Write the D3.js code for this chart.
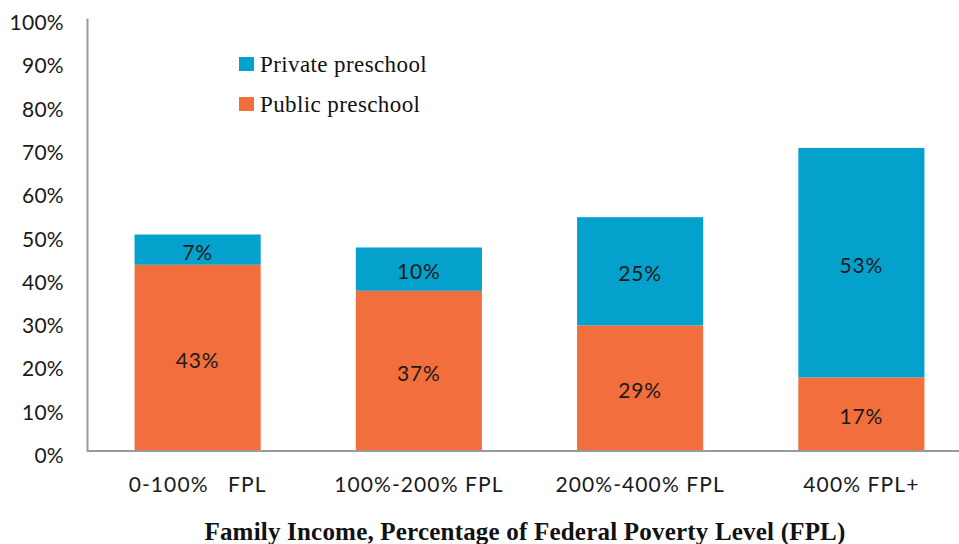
<!DOCTYPE html>
<html><head><meta charset="utf-8">
<script src="https://cdn.jsdelivr.net/npm/d3@7"></script>
<style>body{margin:0;background:#fff}svg{display:block}</style>
</head><body>
<svg id="chart" width="959" height="544"></svg>
<script>
const categories = ["0-100%   FPL", "100%-200% FPL", "200%-400% FPL", "400% FPL+"];
const publicValues = [43, 37, 29, 17];
const privateValues = [7, 10, 25, 53];
const yTicks = [0,10,20,30,40,50,60,70,80,90,100];
const seriesNames = ["Private preschool", "Public preschool"];
const colors = {pub: "#F26E3C", priv: "#05A1CD"};

const svg = d3.select("#chart");
const x = d3.scaleBand().domain(categories).range([87, 972]).paddingInner(0.43).paddingOuter(0.215);
const y = d3.scaleLinear().domain([0, 100]).range([451, 18]);
const sansFont = "Lato, 'Open Sans', sans-serif";

const data = categories.map((c, i) => ({cat: c, pub: publicValues[i], priv: privateValues[i]}));

// bars
svg.append("g").selectAll("rect.pub").data(data).join("rect")
  .attr("x", d => x(d.cat)).attr("width", x.bandwidth())
  .attr("y", d => y(d.pub)).attr("height", d => y(0) - y(d.pub))
  .attr("fill", colors.pub);
svg.append("g").selectAll("rect.priv").data(data).join("rect")
  .attr("x", d => x(d.cat)).attr("width", x.bandwidth())
  .attr("y", d => y(d.pub + d.priv)).attr("height", d => y(d.pub) - y(d.pub + d.priv))
  .attr("fill", colors.priv);

// value labels
const lab = svg.append("g").attr("font-family", sansFont).attr("font-size", 21).attr("letter-spacing", 0.8)
  .attr("fill", "#1a1a1a").attr("text-anchor", "middle");
lab.selectAll("text.pub").data(data).join("text")
  .attr("x", d => x(d.cat) + x.bandwidth()/2)
  .attr("y", d => y(d.pub/2)).attr("dy", "0.48em").text(d => d.pub + "%");
lab.selectAll("text.priv").data(data).join("text")
  .attr("x", d => x(d.cat) + x.bandwidth()/2)
  .attr("y", d => y(d.pub + d.priv/2)).attr("dy", "0.48em").text(d => d.priv + "%");

// axes
const yAxis = svg.append("g").attr("transform", "translate(87,0)")
  .call(d3.axisLeft(y).tickValues(yTicks).tickFormat(d => d + "%").tickSize(0).tickPadding(23));
yAxis.select(".domain").attr("stroke", "#9a9a9a").attr("stroke-width", 2);
yAxis.selectAll("text").attr("font-family", sansFont).attr("font-size", 21).attr("letter-spacing", 0.3)
  .attr("fill", "#1a1a1a").attr("dy", "0.55em");

const xAxis = svg.append("g").attr("transform", "translate(0,451)")
  .call(d3.axisBottom(x).tickSize(0).tickPadding(26));
xAxis.select(".domain").attr("d", "M87,0H959").attr("stroke", "#9a9a9a").attr("stroke-width", 2);
xAxis.selectAll("text").attr("font-family", sansFont).attr("font-size", 21).attr("letter-spacing", 1.1)
  .attr("fill", "#1a1a1a").style("white-space", "pre");

// title
svg.append("text").attr("x", 525).attr("y", 540).attr("text-anchor", "middle")
  .attr("font-family", "'Liberation Serif', 'DejaVu Serif', serif").attr("font-weight", "bold").attr("font-size", 25)
  .attr("letter-spacing", 0.2)
  .attr("fill", "#111").text("Family Income, Percentage of Federal Poverty Level (FPL)");

// legend
const legend = svg.append("g");
const legendColors = [colors.priv, colors.pub];
const lg = legend.selectAll("g").data(seriesNames).join("g").attr("transform", (d, i) => `translate(239,${57 + i*40})`);
lg.append("rect").attr("width", 15).attr("height", 14).attr("fill", (d, i) => legendColors[i]);
lg.append("text").attr("x", 21).attr("y", 15).attr("font-family", "'Liberation Serif', serif").attr("font-size", 23)
  .attr("letter-spacing", 0.4).attr("fill", "#111").text(d => d);
</script>
</body></html>
